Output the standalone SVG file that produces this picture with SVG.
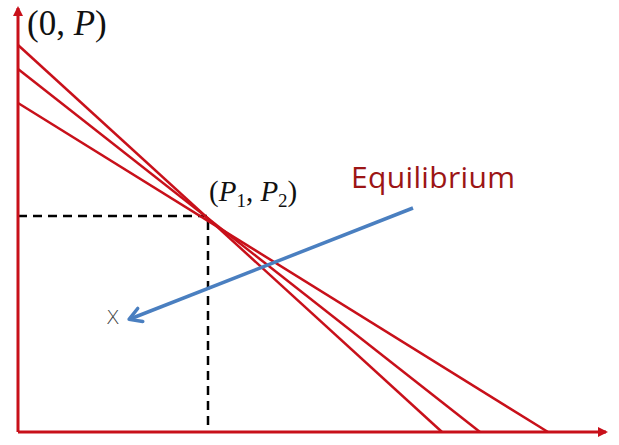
<svg xmlns="http://www.w3.org/2000/svg" width="619" height="445" viewBox="0 0 619 445">
<style>
.ax{stroke:#c8101a;stroke-width:3;fill:none}
.ln{stroke:#c8101a;stroke-width:2.5;fill:none}
.dash{stroke:#000;stroke-width:2.5;stroke-dasharray:9,6;fill:none}
.math{font-family:"Liberation Serif","DejaVu Serif",serif;fill:#111}
</style>
<defs>
<marker id="ra" markerWidth="10" markerHeight="10" refX="8" refY="5" orient="auto" markerUnits="userSpaceOnUse"><path d="M0,0 L10,5 L0,10 Z" fill="#c8101a"/></marker>
<marker id="ba" markerWidth="18" markerHeight="18" refX="14" refY="9" orient="auto" markerUnits="userSpaceOnUse"><path d="M3,2 L15,9 L3,16" fill="none" stroke="#4a7fc0" stroke-width="3.5" stroke-linejoin="round" stroke-linecap="round"/></marker>
</defs>
<rect width="619" height="445" fill="#fff"/>
<g id="connectors">
<path class="dash" d="M18,216 H208 V432"/>
<line class="ln" x1="18" y1="45" x2="442" y2="432"/>
<line class="ln" x1="18" y1="69" x2="480" y2="432"/>
<line class="ln" x1="18" y1="103" x2="548" y2="432"/>
<line class="ax" x1="18" y1="432" x2="18" y2="8" marker-end="url(#ra)"/>
<line class="ax" x1="18" y1="432" x2="606" y2="432" marker-end="url(#ra)"/>
<line x1="413" y1="208" x2="130" y2="319" stroke="#4a7fc0" stroke-width="3.5" marker-end="url(#ba)"/>
</g>
<g id="label-0P"><text class="math" x="27" y="35" font-size="35">(0, <tspan font-style="italic">P</tspan>)</text></g>
<g id="label-P1P2"><text class="math" x="209" y="201" font-size="29">(<tspan font-style="italic">P</tspan><tspan font-size="19" dy="6">1</tspan><tspan dy="-6">, </tspan><tspan font-style="italic">P</tspan><tspan font-size="19" dy="6">2</tspan><tspan dy="-6">)</tspan></text></g>
<g id="label-equilibrium"><text x="351" y="188" font-family="'Open Sans','Liberation Sans',sans-serif" font-size="30" fill="#9c1515" textLength="164">Equilibrium</text></g>
<g id="label-x"><text x="106" y="324" font-family="'DejaVu Sans','Liberation Sans',sans-serif" font-size="20" font-weight="200" fill="#444">X</text></g>
</svg>
